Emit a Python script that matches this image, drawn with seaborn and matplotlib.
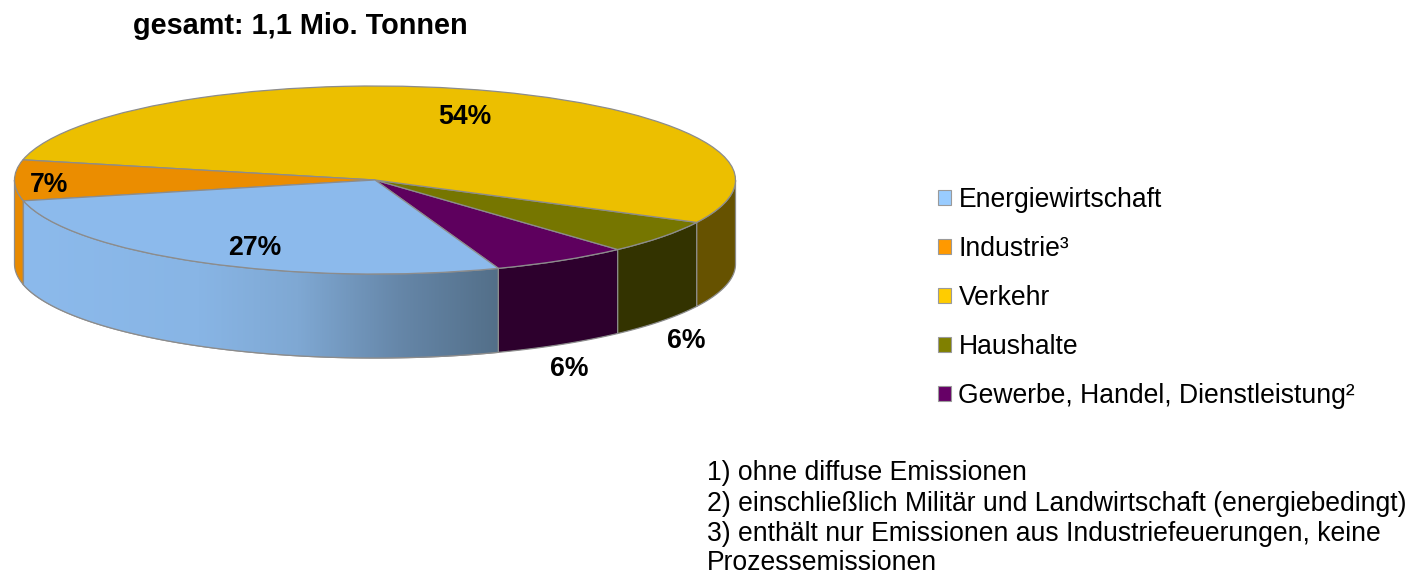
import numpy as np
import seaborn as sns
import matplotlib.pyplot as plt
from matplotlib.colors import LinearSegmentedColormap
from matplotlib.patches import Patch, Polygon

# Werte (Reihenfolge wie in der Legende)
kategorien = ['Energiewirtschaft', 'Industrie³', 'Verkehr', 'Haushalte', 'Gewerbe, Handel, Dienstleistung²']
anteile = [27, 7, 54, 5.8, 6.2]
legenden_farben = ['#99CCFF', '#FF9900', '#FFCC00', '#808000', '#660066']
deckel_farben = ['#8CBAEC', '#EB8D00', '#ECBF00', '#767600', '#5E005E']
wand_farben = ['#8CBAEC', '#E88A00', '#665200', '#333300', '#2D002D']
titel = 'gesamt: 1,1 Mio. Tonnen'
fussnoten = [
    '1) ohne diffuse Emissionen',
    '2) einschließlich Militär und Landwirtschaft (energiebedingt)',
    '3) enthält nur Emissionen aus Industriefeuerungen, keine',
    'Prozessemissionen',
]

B, H = 1424, 577
MX, MY = 375, 180      # Mitte der Ellipse in Pixeln
RX, RY = 360.5, 94
TIEFE = 84 / RY
START = -70

sns.set_theme(style='white')
plt.rcParams['font.family'] = ['Liberation Sans', 'DejaVu Sans']

fig = plt.figure(figsize=(B / 100, H / 100), dpi=100)
ax = fig.add_axes([0, 0, 1, 1])

# Kuchen läuft gegen den Uhrzeigersinn: Gewerbe zuerst, Energie zuletzt
reihenfolge = [4, 3, 2, 1, 0]
ax.pie([anteile[i] for i in reihenfolge], colors=[deckel_farben[i] for i in reihenfolge],
       startangle=START, counterclock=True, radius=1,
       wedgeprops={'edgecolor': '#8C8C8C', 'linewidth': 0.9, 'zorder': 5})
ax.set_aspect('auto')


def wand(von, bis):
    w = np.radians(np.linspace(von, bis, 80))
    x, y = np.cos(w), np.sin(w)
    return np.column_stack([np.r_[x, x[::-1]], np.r_[y, y[::-1] - TIEFE]])


verlauf = LinearSegmentedColormap.from_list('wand', [
    (0.0, '#8CBAEC'), (0.37, '#88B5E5'), (0.58, '#7FA8D3'), (0.79, '#6687A9'), (1.0, '#536F89')])

winkel = START
for i in reihenfolge:
    ende = winkel + anteile[i] * 3.6
    # nur der vordere Teil des Rands ist sichtbar
    for lo, hi in [(-180, 0), (180, 360)]:
        von, bis = max(winkel, lo), min(ende, hi)
        if von >= bis:
            continue
        poly = Polygon(wand(von, bis), closed=True, facecolor=wand_farben[i],
                       edgecolor='#8C8C8C', linewidth=0.9, zorder=2)
        ax.add_patch(poly)
        if i == 0:
            x0, x1 = np.cos(np.radians(von)), np.cos(np.radians(bis))
            bild = ax.imshow(np.linspace(0, 1, 256).reshape(1, -1), cmap=verlauf, aspect='auto',
                             extent=(x0, x1, -2, 0), zorder=3)
            bild.set_clip_path(Polygon(wand(von, bis), closed=True, transform=ax.transData))
            rand = Polygon(wand(von, bis), closed=True, facecolor='none',
                           edgecolor='#8C8C8C', linewidth=0.9, zorder=4)
            ax.add_patch(rand)
    winkel = ende
ax.set_xlim(-MX / RX, (B - MX) / RX)
ax.set_ylim(-(H - MY) / RY, MY / RY)


def px(x, y):
    return x / B, 1 - y / H


# Prozentwerte
label_pos = [(255, 248), (49, 185), (465, 117), (686, 341), (569, 369)]
for wert, (x, y) in zip(anteile, label_pos):
    fig.text(*px(x, y), f'{round(wert)}%', fontsize=19.2, fontweight='bold', color='black',
             ha='center', va='center', zorder=10)

fig.text(*px(133, 26), titel, fontsize=20.8, fontweight='bold', color='black', ha='left', va='center')

griffe = [Patch(facecolor=f, edgecolor='#9A9A9A', linewidth=0.8, label=k)
          for f, k in zip(legenden_farben, kategorien)]
fig.legend(handles=griffe, loc='upper left', bbox_to_anchor=px(938, 187), bbox_transform=fig.transFigure,
           frameon=False, fontsize=19.1, handlelength=0.49, handleheight=0.49, handletextpad=0.28,
           labelspacing=0.87, borderpad=0, borderaxespad=0, labelcolor='black')

for zeile, y in zip(fussnoten, [473, 504, 534, 563]):
    fig.text(*px(707, y), zeile, fontsize=19.1, color='black', ha='left', va='center')

plt.savefig('out.png', dpi=100, facecolor='white')
